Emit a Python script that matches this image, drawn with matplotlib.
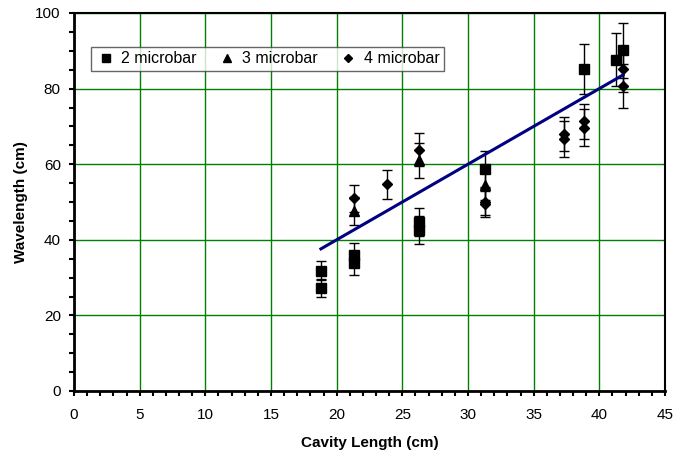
import matplotlib
matplotlib.use("Agg")
import matplotlib.pyplot as plt
from matplotlib.ticker import MultipleLocator
from matplotlib.lines import Line2D
import numpy as np

plt.rcParams['font.family'] = ['Liberation Sans', 'DejaVu Sans']

# 2 microbar
sq_x = [18.8, 18.8, 21.3, 21.3, 26.3, 26.3, 31.3, 38.8, 41.3, 41.8]
sq_y = [31.8, 27.3, 36.0, 33.8, 44.8, 42.6, 58.8, 85.2, 87.6, 90.1]
sq_err = [2.5, 2.3, 3.2, 3.1, 3.7, 3.7, 4.7, 6.7, 7.0, 7.2]

# 3 microbar
tri_x = [21.3, 26.3, 31.3]
tri_y = [47.6, 61.0, 54.5]
tri_err = [3.7, 4.6, 4.1]

# 4 microbar
dia_x = [21.3, 23.8, 26.3, 31.3, 31.3, 37.3, 37.3, 38.8, 38.8, 41.8, 41.8]
dia_y = [51.0, 54.7, 63.8, 50.1, 49.5, 68.0, 66.6, 71.3, 69.7, 85.2, 80.7]
dia_err = [3.6, 3.8, 4.4, 3.5, 3.5, 4.6, 4.7, 4.7, 5.0, 6.0, 5.9]

# line: wavelength = 2 * cavity length
line_slope = 2.0
line_x = [18.8, 41.8]

legend_labels = ['2 microbar', '3 microbar', '4 microbar']

fig = plt.figure(figsize=(6.77, 4.57), dpi=100)
ax = fig.add_axes([74/677, 1-391/457, (665-74)/677, (391-13)/457])

ax.set_xlim(0, 45)
ax.set_ylim(0, 100)
ax.xaxis.set_major_locator(MultipleLocator(5))
ax.xaxis.set_minor_locator(MultipleLocator(1))
ax.yaxis.set_major_locator(MultipleLocator(20))
ax.yaxis.set_minor_locator(MultipleLocator(5))
ax.grid(True, which='major', color='#008000', linewidth=1.0)
ax.set_axisbelow(True)
ax.tick_params(which='both', direction='out', length=3.5, width=1.5, color='black')
ax.tick_params(axis='x', which='major', labelsize=11, pad=9)
ax.tick_params(axis='y', which='major', labelsize=11, pad=6)
for s in ax.spines.values():
    s.set_linewidth(1.5)
    s.set_color('black')
ax.spines['left'].set_linewidth(2)
ax.spines['bottom'].set_linewidth(2)

ekw = dict(ecolor='black', elinewidth=1.0, capsize=3.5, capthick=1.0, linestyle='none', color='black')
ax.errorbar(sq_x, sq_y, yerr=sq_err, marker='s', markersize=6.5, **ekw)
ax.errorbar(tri_x, tri_y, yerr=tri_err, marker='^', markersize=7, **ekw)
ax.errorbar(dia_x, dia_y, yerr=dia_err, marker='D', markersize=4.6, **ekw)

lx = np.array(line_x)
ax.plot(lx, line_slope * lx, color='#000080', linewidth=2.2, zorder=5)

hs = [Line2D([], [], marker='s', color='black', linestyle='none', markersize=5.5),
      Line2D([], [], marker='^', color='black', linestyle='none', markersize=6),
      Line2D([], [], marker='D', color='black', linestyle='none', markersize=4)]
leg = ax.legend(hs, legend_labels, loc='upper left', bbox_to_anchor=((91-74)/591, 1-(46.7-13)/378),
                ncol=3, frameon=True, fancybox=False, fontsize=11.5, handlelength=1.3,
                handletextpad=0.3, columnspacing=1.25, borderpad=0.3, borderaxespad=0)
leg.get_frame().set_edgecolor('#404040')
leg.get_frame().set_linewidth(1.0)

ax.set_xlabel('Cavity Length (cm)', fontsize=11, fontweight='bold', labelpad=10)
ax.set_ylabel('Wavelength (cm)', fontsize=11, fontweight='bold', labelpad=5)

fig.savefig('out.png', dpi=100)
